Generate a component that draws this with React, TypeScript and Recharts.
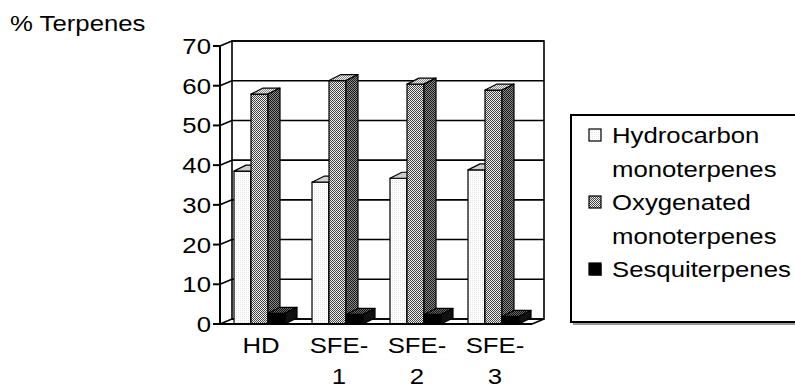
import { Bar, BarChart, CartesianGrid, Legend, XAxis, YAxis } from "recharts"

const categories = ["HD", "SFE-1", "SFE-2", "SFE-3"]
const hydrocarbon = [38.5, 35.7, 36.7, 38.8]
const oxygenated = [57.9, 61.3, 60.4, 58.9]
const sesquiterpenes = [2.7, 2.4, 2.4, 1.9]
const yTicks = [0, 10, 20, 30, 40, 50, 60, 70]
const seriesNames = ["Hydrocarbon monoterpenes", "Oxygenated monoterpenes", "Sesquiterpenes"]
const yTitle = "% Terpenes"

const data = categories.map((name, i) => ({
  name,
  hydro: hydrocarbon[i],
  oxy: oxygenated[i],
  sesq: sesquiterpenes[i],
}))

// text in the source is stretched sideways a bit
const SX = 1.17
const FONT = '"Liberation Sans", Arial, sans-serif'
// 3d depth of bars / walls
const DX = 12
const DY = 6
const WDX = 12
const WDY = 5

const faces: Record<string, { front: string; top: string; side: string }> = {
  hydro: { front: "url(#hFront)", top: "#cfcfcf", side: "#bdbdbd" },
  oxy: { front: "url(#oFront)", top: "url(#oTop)", side: "url(#oSide)" },
  sesq: { front: "#000", top: "url(#sTop)", side: "#111" },
}

function Bar3D(props: any) {
  const { x, y, width, height, faceKey } = props
  if (width == null || height == null) return null
  const f = faces[faceKey]
  const r = x + width
  const b = y + height
  return (
    <g stroke="#000" strokeWidth={1.2} strokeLinejoin="round">
      <rect x={x} y={y} width={width} height={height} fill={f.front} />
      <polygon points={`${x},${y} ${x + DX},${y - DY} ${r + DX},${y - DY} ${r},${y}`} fill={f.top} />
      <polygon points={`${r},${y} ${r + DX},${y - DY} ${r + DX},${b - DY} ${r},${b}`} fill={f.side} />
    </g>
  )
}

// grid lines sit on the back wall, joined to the axis by a short slanted stub
function WallLine(props: any) {
  const { x1, y1, x2, x, y, width, height, index } = props
  return (
    <g key={`wall-${index}`} stroke="#000" strokeWidth={1.6} fill="none">
      {index === 0 && (
        <>
          <rect x={x + WDX} y={y - WDY} width={width} height={height} />
          <line x1={x + width} y1={y + height} x2={x + width + WDX} y2={y + height - WDY} />
        </>
      )}
      <line x1={x1} y1={y1} x2={x1 + WDX} y2={y1 - WDY} />
      <line x1={x1 + WDX} y1={y1 - WDY} x2={x2 + WDX} y2={y1 - WDY} />
    </g>
  )
}

function YTick(props: any) {
  const { x, y, payload } = props
  return (
    <text transform={`translate(${x},${y + 8}) scale(${SX},1)`} textAnchor="end" fontSize={22} fontFamily={FONT} fill="#000">
      {payload.value}
    </text>
  )
}

function XTick(props: any) {
  const { x, y, payload } = props
  const label = String(payload.value)
  const dash = label.indexOf("-")
  const lines = dash >= 0 ? [label.slice(0, dash + 1), label.slice(dash + 1)] : [label]
  return (
    <g>
      {lines.map((t, i) => (
        <text
          key={i}
          transform={`translate(${x + 2},${y + 29 + i * 31}) scale(${SX},1)`}
          textAnchor="middle"
          fontSize={22}
          fontFamily={FONT}
          fill="#000"
        >
          {t}
        </text>
      ))}
    </g>
  )
}

const markerFill: Record<string, string> = {
  hydro: "url(#hFront)",
  oxy: "url(#oFront)",
  sesq: "#000",
}

function LegendBox(props: any) {
  const payload = props.payload || []
  return (
    <svg width={240} height={212} style={{ display: "block" }}>
      <rect x={3} y={3} width={240} height={208} fill="#999" />
      <rect x={1} y={1} width={240} height={207} fill="#fff" stroke="#000" strokeWidth={2} />
      {payload.map((entry: any, i: number) => {
        const words = String(entry.value).split(" ")
        const top = 15 + i * 67
        const base = 29 + i * 67
        return (
          <g key={entry.dataKey}>
            {entry.dataKey === "sesq" && <rect x={20} y={top + 1} width={12} height={12} fill="#888" />}
            <rect x={19} y={top} width={12} height={12} fill={markerFill[entry.dataKey]} stroke="#000" strokeWidth={1.2} />
            {words.map((w: string, j: number) => (
              <text
                key={j}
                transform={`translate(42,${base + j * 33.5}) scale(${SX},1)`}
                fontSize={22}
                fontFamily={FONT}
                fill="#000"
              >
                {w}
              </text>
            ))}
          </g>
        )
      })}
    </svg>
  )
}

export default function App() {
  return (
    <div style={{ position: "absolute", left: 0, top: 0, width: 795, height: 388, overflow: "hidden", background: "#fff" }}>
      <BarChart
        width={795}
        height={388}
        data={data}
        margin={{ top: 46, right: 263, bottom: 14, left: 170 }}
        barGap={0}
      >
        <defs>
          <pattern id="hFront" width="2" height="2" patternUnits="userSpaceOnUse">
            <rect width="2" height="2" fill="#fff" />
            <rect width="1" height="1" fill="#e4e4e4" />
          </pattern>
          <pattern id="oFront" width="2" height="2" patternUnits="userSpaceOnUse">
            <rect width="2" height="2" fill="#eee" />
            <rect width="1" height="1" fill="#444" />
            <rect x="1" y="1" width="1" height="1" fill="#444" />
          </pattern>
          <pattern id="oTop" width="2" height="2" patternUnits="userSpaceOnUse">
            <rect width="2" height="2" fill="#f2f2f2" />
            <rect width="1" height="1" fill="#888" />
            <rect x="1" y="1" width="1" height="1" fill="#888" />
          </pattern>
          <pattern id="oSide" width="2" height="2" patternUnits="userSpaceOnUse">
            <rect width="2" height="2" fill="#888" />
            <rect width="1" height="1" fill="#1a1a1a" />
            <rect x="1" y="1" width="1" height="1" fill="#1a1a1a" />
          </pattern>
          <pattern id="sTop" width="2" height="2" patternUnits="userSpaceOnUse">
            <rect width="2" height="2" fill="#666" />
            <rect width="1" height="1" fill="#111" />
            <rect x="1" y="1" width="1" height="1" fill="#111" />
          </pattern>
        </defs>
        <CartesianGrid vertical={false} horizontal={(p: any) => <WallLine {...p} />} />
        <XAxis
          dataKey="name"
          height={50}
          tickLine={false}
          tickSize={0}
          tickMargin={0}
          interval={0}
          axisLine={{ stroke: "#000", strokeWidth: 2 }}
          tick={(p: any) => <XTick {...p} />}
        />
        <YAxis
          width={50}
          domain={[0, 70]}
          ticks={yTicks}
          interval={0}
          tickSize={7}
          axisLine={{ stroke: "#000", strokeWidth: 2 }}
          tickLine={{ stroke: "#000", strokeWidth: 2 }}
          tick={(p: any) => <YTick {...p} />}
        />
        <Legend
          layout="vertical"
          align="center"
          verticalAlign="middle"
          wrapperStyle={{ left: 570, top: 114, width: 240, height: 212 }}
          content={(p: any) => <LegendBox {...p} />}
        />
        <Bar dataKey="hydro" name={seriesNames[0]} barSize={17} fill="#fff" isAnimationActive={false} shape={(p: any) => <Bar3D {...p} faceKey="hydro" />} />
        <Bar dataKey="oxy" name={seriesNames[1]} barSize={17} fill="#999" isAnimationActive={false} shape={(p: any) => <Bar3D {...p} faceKey="oxy" />} />
        <Bar dataKey="sesq" name={seriesNames[2]} barSize={17} fill="#000" isAnimationActive={false} shape={(p: any) => <Bar3D {...p} faceKey="sesq" />} />
      </BarChart>
      <svg width={200} height={40} style={{ position: "absolute", left: 0, top: 0, pointerEvents: "none" }}>
        <text transform={`translate(10,31) scale(${SX},1)`} fontSize={22} fontFamily={FONT} fill="#000">
          {yTitle}
        </text>
      </svg>
    </div>
  )
}
